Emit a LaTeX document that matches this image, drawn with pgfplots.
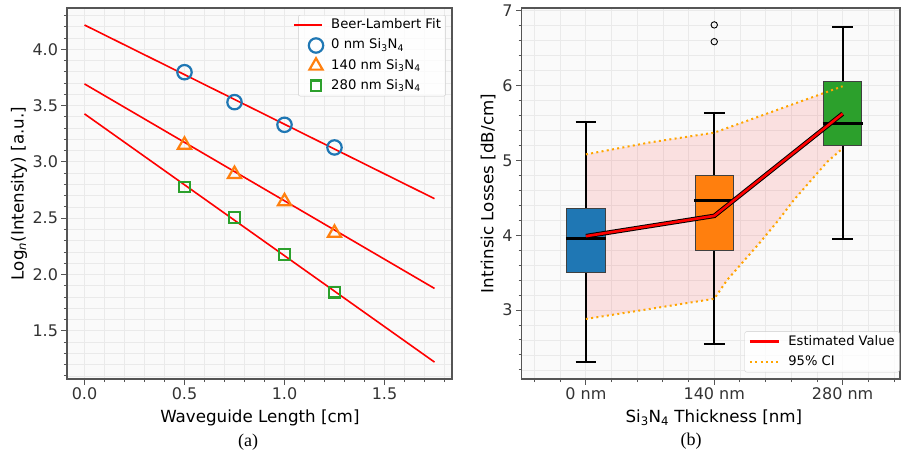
\documentclass[border=0pt]{standalone}
\usepackage{fontspec}
\setmainfont{DejaVu Sans}
\newfontfamily\capfont{Liberation Serif}
\usepackage{pgfplots}
\pgfplotsset{compat=1.18}
\definecolor{tabblue}{HTML}{1F77B4}
\definecolor{taborange}{HTML}{FF7F0E}
\definecolor{tabgreen}{HTML}{2CA02C}
\definecolor{bgc}{HTML}{FAFAFA}
\definecolor{gridc}{HTML}{EAEAEA}
\definecolor{spinec}{HTML}{555555}
\definecolor{cic}{HTML}{FFA500}
\pgfplotsset{
  emptylegend/.style={legend image code/.code={}},
  estlegend/.style={legend image code/.code={\draw[red, line width=3pt] (0pt,0pt) -- (29pt,0pt);}},
  cilegend/.style={legend image code/.code={\draw[cic, line width=2pt, dash pattern=on 2pt off 3.3pt] (0pt,0pt) -- (29pt,0pt);}},
  mymarklegend/.style={legend image code/.code={\draw[mark repeat=2,mark phase=2,##1] plot coordinates {(0pt,0pt)(14pt,0pt)(28pt,0pt)};}},
  mystyle/.style={
    scale only axis,
    axis background/.style={fill=bgc},
    grid=both,
    major grid style={gridc, line width=0.8pt},
    minor grid style={gridc, line width=0.6pt},
    tick align=outside, tick pos=left,
    major tick length=5.5pt, minor tick length=3pt,
    tick style={spinec, line width=0.9pt},
    axis line style={spinec, line width=1.1pt},
    ticklabel style={font=\fontsize{16}{19}\selectfont, text=black!80},
    label style={font=\fontsize{16.7}{20}\selectfont},
    legend cell align=left,
    legend style={draw=black!20, rounded corners=2pt, fill=white, fill opacity=0.8, text opacity=1,
      font=\fontsize{13.2}{15.8}\selectfont, inner xsep=3.7pt, inner ysep=3pt, row sep=5.5pt,
      nodes={inner sep=1pt, text height=9.5pt, text depth=3pt},
      /tikz/every odd column/.append style={column sep=7pt}},
  }
}
\begin{document}
\begin{tikzpicture}
\path[use as bounding box] (0,0) rectangle (901pt,455pt);
\begin{axis}[mystyle,
  at={(67pt,76pt)}, anchor=south west, width=385pt, height=371pt,
  xmin=-0.0875, xmax=1.8375, ymin=1.072, ymax=4.366,
  xtick={0,0.5,1,1.5}, xticklabels={0.0,0.5,1.0,1.5},
  ytick={1.5,2,2.5,3,3.5,4}, yticklabels={1.5,2.0,2.5,3.0,3.5,4.0},
  minor xtick={0.1,0.2,0.3,0.4,0.6,0.7,0.8,0.9,1.1,1.2,1.3,1.4,1.6,1.7,1.8},
  minor ytick={1.1,1.2,1.3,1.4,1.6,1.7,1.8,1.9,2.1,2.2,2.3,2.4,2.6,2.7,2.8,2.9,3.1,3.2,3.3,3.4,3.6,3.7,3.8,3.9,4.1,4.2,4.3},
  xlabel={Waveguide Length [cm]},
  ylabel={Log\textsubscript{\textit{n}}(Intensity) [a.u.]},
  xlabel style={at={(axis description cs:0.501,-0.105)}, anchor=center},
  ylabel style={at={(axis description cs:-0.1247,0.5)}, anchor=center},
  legend style={at={(axis description cs:0.984,0.981)}, anchor=north east},
]
\addlegendimage{emptylegend}
\addlegendentry{\llap{\textcolor{red}{\rule[3.2pt]{28pt}{1.6pt}}\hspace{9pt}}Beer-Lambert Fit}
\addlegendimage{mymarklegend, only marks, mark=o, mark size=7.2pt, tabblue, line width=2.2pt}
\addlegendentry{0 nm Si\textsubscript{3}N\textsubscript{4}}
\addlegendimage{mymarklegend, only marks, mark=triangle, mark size=7.6pt, taborange, line width=2.2pt}
\addlegendentry{140 nm Si\textsubscript{3}N\textsubscript{4}}
\addlegendimage{mymarklegend, only marks, mark=square, mark size=5.3pt, tabgreen, line width=2.2pt}
\addlegendentry{280 nm Si\textsubscript{3}N\textsubscript{4}}
\addplot[forget plot, red, line width=1.6pt] coordinates {(0,4.215) (1.75,2.673)};
\addplot[forget plot, red, line width=1.6pt] coordinates {(0,3.692) (1.75,1.876)};
\addplot[forget plot, red, line width=1.6pt] coordinates {(0,3.426) (1.75,1.222)};
\addplot[forget plot, only marks, mark=o, mark size=7.2pt, tabblue, line width=2.2pt]
  coordinates {(0.5,3.796) (0.75,3.53) (1.0,3.329) (1.25,3.128)};
\addplot[forget plot, only marks, mark=triangle, mark size=7.6pt, taborange, line width=2.2pt]
  coordinates {(0.5,3.15) (0.75,2.89) (1.0,2.648) (1.25,2.368)};
\addplot[forget plot, only marks, mark=square, mark size=5.3pt, tabgreen, line width=2.2pt]
  coordinates {(0.5,2.777) (0.75,2.507) (1.0,2.177) (1.25,1.843)};
\end{axis}

\begin{axis}[mystyle,
  at={(521.7pt,76pt)}, anchor=south west, width=378.3pt, height=371pt,
  xmin=-0.5, xmax=2.447, ymin=2.078, ymax=7.036,
  xtick={0,1,2}, xticklabels={0 nm,140 nm,280 nm},
  ytick={3,4,5,6,7}, yticklabels={3,4,5,6,7},
  minor xtick={-0.4,-0.2,0.2,0.4,0.6,0.8,1.2,1.4,1.6,1.8,2.2,2.4},
  minor ytick={2.2,2.4,2.6,2.8,3.2,3.4,3.6,3.8,4.2,4.4,4.6,4.8,5.2,5.4,5.6,5.8,6.2,6.4,6.6,6.8},
  xlabel={Si\textsubscript{3}N\textsubscript{4} Thickness [nm]},
  ylabel={Intrinsic Losses [dB/cm]},
  xlabel style={at={(axis description cs:0.508,-0.105)}, anchor=center},
  ylabel style={at={(axis description cs:-0.089,0.5)}, anchor=center},
  legend style={at={(axis description cs:0.999,0.018)}, anchor=south east, font=\fontsize{13.1}{15.7}\selectfont},
  whisk/.style={forget plot, black, line width=1.8pt},
  boxs/.style={forget plot, draw=black!75, line width=1pt},
  med/.style={forget plot, black, line width=3pt},
]
\addlegendimage{estlegend}
\addlegendentry{Estimated Value}
\addlegendimage{cilegend}
\addlegendentry{95\% CI}
% CI band
\addplot[forget plot, draw=none, fill=red, fill opacity=0.1]
  coordinates {(0,5.08) (0.5,5.24) (1,5.37) (2,5.99) (2,5.16) (1.88,4.98) (1.62,4.47) (1.5,4.2) (1.36,3.91) (1.1,3.4) (1,3.15) (0,2.88)} -- cycle;
% 0 nm box
\addplot[whisk] coordinates {(0,3.504) (0,2.31)};
\addplot[whisk] coordinates {(0,4.357) (0,5.516)};
\addplot[whisk] coordinates {(-0.08,2.31) (0.08,2.31)};
\addplot[whisk] coordinates {(-0.08,5.516) (0.08,5.516)};
\addplot[boxs, fill=tabblue] coordinates {(-0.15,3.504) (0.15,3.504) (0.15,4.357) (-0.15,4.357)} -- cycle;
\addplot[med] coordinates {(-0.155,3.96) (0.155,3.96)};
% 140 nm box
\addplot[whisk] coordinates {(1,3.80) (1,2.55)};
\addplot[whisk] coordinates {(1,4.80) (1,5.63)};
\addplot[whisk] coordinates {(0.92,2.55) (1.08,2.55)};
\addplot[whisk] coordinates {(0.92,5.63) (1.08,5.63)};
\addplot[boxs, fill=taborange] coordinates {(0.85,3.80) (1.15,3.80) (1.15,4.80) (0.85,4.80)} -- cycle;
\addplot[med] coordinates {(0.845,4.464) (1.155,4.464)};
\addplot[forget plot, only marks, mark=o, mark size=3.2pt, black, line width=0.9pt] coordinates {(1,6.81) (1,6.586)};
% 280 nm box
\addplot[whisk] coordinates {(2,5.195) (2,3.95)};
\addplot[whisk] coordinates {(2,6.048) (2,6.786)};
\addplot[whisk] coordinates {(1.92,3.95) (2.08,3.95)};
\addplot[whisk] coordinates {(1.92,6.786) (2.08,6.786)};
\addplot[boxs, fill=tabgreen] coordinates {(1.85,5.195) (2.15,5.195) (2.15,6.048) (1.85,6.048)} -- cycle;
\addplot[med] coordinates {(1.845,5.495) (2.155,5.495)};
% CI lines
\addplot[forget plot, cic, line width=2pt, dash pattern=on 2pt off 3.3pt] coordinates {(0,5.08) (0.5,5.24) (1,5.37) (2,5.99)};
\addplot[forget plot, cic, line width=2pt, dash pattern=on 2pt off 3.3pt] coordinates {(0,2.88) (1,3.15) (1.1,3.4) (1.36,3.91) (1.5,4.2) (1.62,4.47) (1.88,4.98) (2,5.16)};
% estimated value
\addplot[forget plot, black, line width=4.5pt] coordinates {(0,3.987) (1,4.258) (2,5.623)};
\addplot[forget plot, red, line width=2.6pt] coordinates {(0,3.987) (1,4.258) (2,5.623)};
\end{axis}
\node[font=\capfont\fontsize{18}{21}\selectfont] at (248pt,13.3pt) {(a)};
\node[font=\capfont\fontsize{18}{21}\selectfont] at (691pt,13.5pt) {(b)};
\end{tikzpicture}
\end{document}
